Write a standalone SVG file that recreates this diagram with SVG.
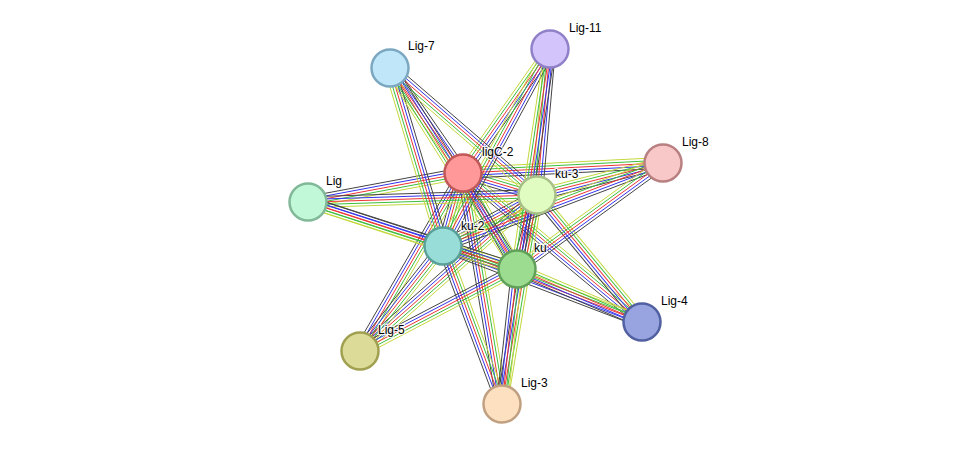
<svg xmlns="http://www.w3.org/2000/svg" xmlns:xlink="http://www.w3.org/1999/xlink" width="976" height="450" viewBox="0 0 976 450">
<style>
.e line{stroke-width:1;vector-effect:non-scaling-stroke}
.n circle{stroke-width:2.5}
text{font-family:"Liberation Sans",Arial,sans-serif;font-size:12px;fill:#000;paint-order:stroke;stroke:#fff;stroke-width:2.5px;stroke-opacity:.8}
</style>
<defs>
<g id="b" class="e">
<line x1="0" y1="-5.4" x2="1" y2="-5.4" stroke="#c4d73c"/>
<line x1="0" y1="-2.7" x2="1" y2="-2.7" stroke="#3cbf3c"/>
<line x1="0" y1="0" x2="1" y2="0" stroke="#ee3333"/>
<line x1="0" y1="2.7" x2="1" y2="2.7" stroke="#3333ee"/>
<line x1="0" y1="5.4" x2="1" y2="5.4" stroke="#444"/>
</g>
</defs>
<rect width="976" height="450" fill="#fff"/>
<g id="edges">
<use xlink:href="#b" transform="translate(463,173) rotate(16.6) scale(77.2,1)"/>
<use xlink:href="#b" transform="translate(463,173) rotate(105.3) scale(75.7,1)"/>
<use xlink:href="#b" transform="translate(463,173) rotate(60.6) scale(110.1,1)"/>
<use xlink:href="#b" transform="translate(537,195) rotate(151.5) scale(106.9,1)"/>
<use xlink:href="#b" transform="translate(537,195) rotate(105.1) scale(76.7,1)"/>
<use xlink:href="#b" transform="translate(443,246) rotate(17.3) scale(77.5,1)"/>
<use xlink:href="#b" transform="translate(463,173) rotate(-124.8) scale(127.9,1)"/>
<use xlink:href="#b" transform="translate(463,173) rotate(-54.9) scale(151.5,1)"/>
<use xlink:href="#b" transform="translate(463,173) rotate(-2.9) scale(200.2,1)"/>
<use xlink:href="#b" transform="translate(463,173) rotate(169.4) scale(157.7,1)"/>
<use xlink:href="#b" transform="translate(463,173) rotate(39.8) scale(232.9,1)"/>
<use xlink:href="#b" transform="translate(463,173) rotate(120.1) scale(205.6,1)"/>
<use xlink:href="#b" transform="translate(463,173) rotate(80.4) scale(234.3,1)"/>
<use xlink:href="#b" transform="translate(537,195) rotate(-139.2) scale(194.3,1)"/>
<use xlink:href="#b" transform="translate(537,195) rotate(-84.9) scale(146.6,1)"/>
<use xlink:href="#b" transform="translate(537,195) rotate(-14.3) scale(130,1)"/>
<use xlink:href="#b" transform="translate(537,195) rotate(178.2) scale(229.1,1)"/>
<use xlink:href="#b" transform="translate(537,195) rotate(50.4) scale(164.8,1)"/>
<use xlink:href="#b" transform="translate(537,195) rotate(138.6) scale(235.9,1)"/>
<use xlink:href="#b" transform="translate(537,195) rotate(99.5) scale(211.9,1)"/>
<use xlink:href="#b" transform="translate(443,246) rotate(-106.6) scale(185.7,1)"/>
<use xlink:href="#b" transform="translate(443,246) rotate(-61.5) scale(224.2,1)"/>
<use xlink:href="#b" transform="translate(443,246) rotate(-20.7) scale(235.1,1)"/>
<use xlink:href="#b" transform="translate(443,246) rotate(-162) scale(142,1)"/>
<use xlink:href="#b" transform="translate(443,246) rotate(20.9) scale(213,1)"/>
<use xlink:href="#b" transform="translate(443,246) rotate(128.3) scale(133.8,1)"/>
<use xlink:href="#b" transform="translate(443,246) rotate(69.5) scale(168.7,1)"/>
<use xlink:href="#b" transform="translate(517,269) rotate(-122.3) scale(237.8,1)"/>
<use xlink:href="#b" transform="translate(517,269) rotate(-81.5) scale(222.5,1)"/>
<use xlink:href="#b" transform="translate(517,269) rotate(-36) scale(180.4,1)"/>
<use xlink:href="#b" transform="translate(517,269) rotate(-162.2) scale(219.5,1)"/>
<use xlink:href="#b" transform="translate(517,269) rotate(23) scale(135.8,1)"/>
<use xlink:href="#b" transform="translate(517,269) rotate(152.4) scale(177.1,1)"/>
<use xlink:href="#b" transform="translate(517,269) rotate(96.3) scale(135.8,1)"/>
</g>
<g id="Lig-7" class="n"><circle cx="390" cy="68" r="18.5" fill="#c0e6fa" stroke="#7ba8c0"/><text x="408" y="50">Lig-7</text></g>
<g id="Lig-11" class="n"><circle cx="550" cy="49" r="18.5" fill="#d4c4fc" stroke="#9080c8"/><text x="569" y="32">Lig-11</text></g>
<g id="Lig-8" class="n"><circle cx="663" cy="163" r="18.5" fill="#f8c8c8" stroke="#b88080"/><text x="682" y="146">Lig-8</text></g>
<g id="Lig" class="n"><circle cx="308" cy="202" r="18.5" fill="#c0f8d8" stroke="#80b898"/><text x="326" y="185">Lig</text></g>
<g id="Lig-4" class="n"><circle cx="642" cy="322" r="18.5" fill="#98a4e0" stroke="#5060a0"/><text x="661" y="305">Lig-4</text></g>
<g id="Lig-5" class="n"><circle cx="360" cy="351" r="18.5" fill="#dcdc98" stroke="#a0a050"/><text x="378" y="334">Lig-5</text></g>
<g id="Lig-3" class="n"><circle cx="502" cy="404" r="18.5" fill="#fce0c0" stroke="#c0a080"/><text x="521" y="387">Lig-3</text></g>
<g id="ligC-2" class="n"><circle cx="463" cy="173" r="18.5" fill="#f99" stroke="#c05858"/><text x="482" y="156">ligC-2</text></g>
<g id="ku-3" class="n"><circle cx="537" cy="195" r="18.5" fill="#e0fcc0" stroke="#a8c088"/><text x="555" y="178">ku-3</text></g>
<g id="ku-2" class="n"><circle cx="443" cy="246" r="18.5" fill="#98ddd8" stroke="#58a098"/><text x="461" y="230">ku-2</text></g>
<g id="ku" class="n"><circle cx="517" cy="269" r="18.5" fill="#9cdc90" stroke="#60a058"/><text x="534" y="252">ku</text></g>
</svg>
